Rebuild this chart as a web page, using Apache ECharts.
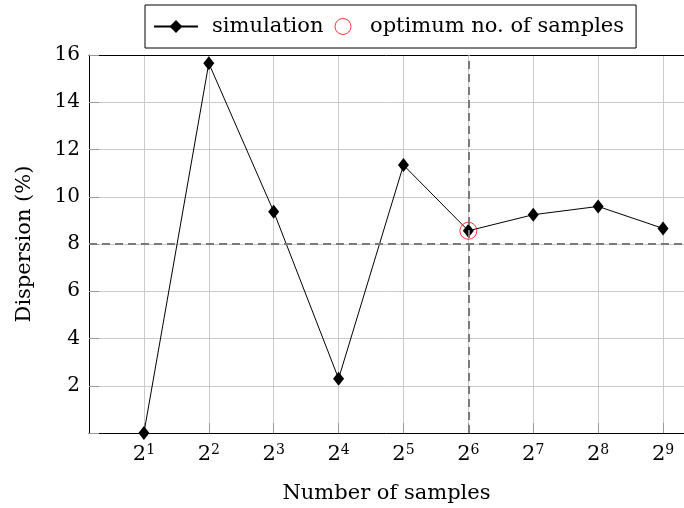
<!DOCTYPE html>
<html>
<head>
<meta charset="utf-8">
<script src="https://cdn.jsdelivr.net/npm/echarts@6/dist/echarts.min.js"></script>
<style>
  html, body { margin: 0; padding: 0; background: #fff; }
  #chart { width: 684px; height: 508px; }
</style>
</head>
<body>
<div id="chart"></div>
<script>
// exponents of 2 on the x axis (2^1 ... 2^9)
var exponents = [1, 2, 3, 4, 5, 6, 7, 8, 9];
// dispersion in %
var dispersion = [0, 15.65, 9.37, 2.30, 11.34, 8.56, 9.24, 9.59, 8.66];
var yTicks = [2, 4, 6, 8, 10, 12, 14, 16];
var optimumIndex = 5;     // 2^6
var thresholdY = 8;       // horizontal dashed line

var font = 'DejaVu Serif';
var xMin = 1 - 55 / 65;   // pgfplots-like enlarged limits, right side cropped
var xMax = 9 + 21 / 65;

var chart = echarts.init(document.getElementById('chart'));

var simData = [];
for (var i = 0; i < exponents.length; i++) {
  simData.push([exponents[i], dispersion[i]]);
}

var option = {
  animation: false,
  textStyle: { fontFamily: font, color: '#000' },
  legend: {
    top: 5,
    left: 145,
    padding: [11, 12, 11, 8],
    borderColor: '#000',
    borderWidth: 1,
    itemGap: 9,
    itemWidth: 44,
    itemHeight: 16,
    textStyle: { fontFamily: font, fontSize: 21, color: '#000' },
    data: [
      { name: 'simulation', textStyle: { padding: [0, 0, 0, 9] } },
      { name: 'optimum no. of samples', itemStyle: { color: 'none', borderColor: '#ff0000', borderWidth: 1 } }
    ]
  },
  grid: {
    left: 89,
    right: 0,
    top: 55,
    bottom: 75,
    outerBoundsMode: 'none'
  },
  xAxis: [{
    type: 'value',
    min: xMin,
    max: xMax,
    name: 'Number of samples',
    nameLocation: 'middle',
    nameGap: 50,
    nameTextStyle: { fontFamily: font, fontSize: 21, color: '#000' },
    axisLine: { show: true, onZero: false, lineStyle: { color: '#000', width: 1 } },
    axisTick: { show: true, inside: true, length: 10, customValues: exponents, lineStyle: { color: '#999' } },
    axisLabel: {
      customValues: exponents,
      margin: 10,
      formatter: function (v) { return '{b|2}{s|' + v + '}'; },
      rich: {
        b: { fontFamily: font, fontSize: 21, color: '#000' },
        s: { fontFamily: font, fontSize: 14, color: '#000', padding: [0, 0, 10, 0] }
      }
    },
    splitLine: { show: true, lineStyle: { color: '#cbcbcb', width: 1 } }
  }, {
    // top frame line
    type: 'value',
    position: 'top',
    min: xMin,
    max: xMax,
    axisLine: { show: true, onZero: false, lineStyle: { color: '#000', width: 1 } },
    axisTick: { show: false },
    axisLabel: { show: false },
    splitLine: { show: false }
  }],
  yAxis: {
    type: 'value',
    min: 0,
    max: 16,
    interval: 2,
    name: 'Dispersion (%)',
    nameLocation: 'middle',
    nameGap: 54,
    nameTextStyle: { fontFamily: font, fontSize: 21, color: '#000' },
    axisLine: { show: true, lineStyle: { color: '#000', width: 1 } },
    axisTick: { show: true, inside: true, length: 10, lineStyle: { color: '#999' } },
    axisLabel: {
      margin: 9,
      fontFamily: font,
      fontSize: 20,
      color: '#000',
      formatter: function (v) { return yTicks.indexOf(v) >= 0 ? String(v) : ''; }
    },
    splitLine: { show: true, lineStyle: { color: '#cbcbcb', width: 1 } }
  },
  series: [
    {
      name: 'simulation',
      type: 'line',
      data: simData,
      symbol: 'diamond',
      symbolSize: [11, 14],
      itemStyle: { color: '#000' },
      lineStyle: { color: '#000', width: 1 },
      z: 3,
      markLine: {
        silent: true,
        symbol: 'none',
        label: { show: false },
        lineStyle: { color: '#7a7a7a', width: 2, type: [8, 5] },
        data: [
          { yAxis: thresholdY },
          { xAxis: exponents[optimumIndex] }
        ]
      }
    },
    {
      name: 'optimum no. of samples',
      type: 'scatter',
      data: [[exponents[optimumIndex], dispersion[optimumIndex]]],
      symbol: 'circle',
      symbolSize: 17,
      itemStyle: { color: 'none', borderColor: '#ff0000', borderWidth: 1 },
      z: 4
    }
  ]
};

chart.setOption(option);
</script>
</body>
</html>
